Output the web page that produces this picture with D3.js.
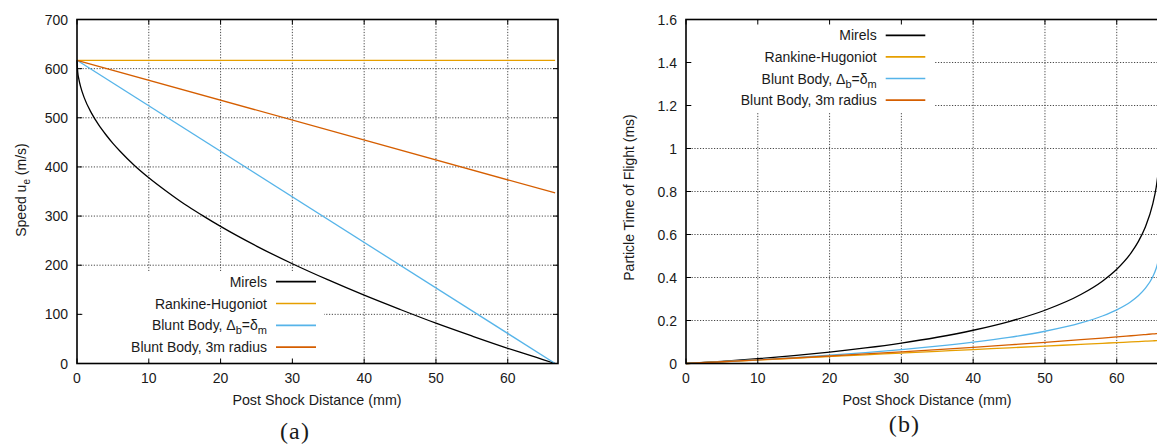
<!DOCTYPE html>
<html>
<head>
<meta charset="utf-8">
<script src="https://cdn.jsdelivr.net/npm/d3@7"></script>
<style>
  body { margin: 0; background: #fff; }
  svg { display: block; }
  text { font-family: "Liberation Sans", Arial, Helvetica, sans-serif; fill: #1a1a1a; }
  .caption { font-family: "Liberation Serif", "Times New Roman", serif; }
</style>
</head>
<body>
<svg id="chart" width="1157" height="446"></svg>
<script>
// ---- series styling / names ----
const seriesColors = ["#000000", "#E69F00", "#56B4E9", "#D55E00"];
// legend labels, split into normal and subscript parts
const seriesLabels = [
  [{ t: "Mirels" }],
  [{ t: "Rankine-Hugoniot" }],
  [{ t: "Blunt Body, \u0394" }, { t: "b", sub: true }, { t: "=\u03b4" }, { t: "m", sub: true }],
  [{ t: "Blunt Body, 3m radius" }]
];

// ---- (a) speed behind the shock, m/s vs mm ----
const speedMirelsX = [0, 0.1, 0.25, 0.5, 1, 2, 3, 4, 5, 6, 8, 10, 12.5, 15, 17.5, 20, 25, 30, 35, 40, 45, 50, 55, 60, 63, 65, 66.6];
const speedMirelsU = [617, 593, 579, 563.5, 541, 510, 486, 466, 448, 432, 403, 378, 350, 324, 301, 279, 239, 203, 170, 139, 110, 82, 56, 31, 17, 7.5, 0];
const speedRankineX = [0, 66.6];
const speedRankineU = [617, 617];
const speedBluntX = [0, 66.6];
const speedBluntU = [617, 0];
const speed3mX = [0, 66.6];
const speed3mU = [617, 347];

// ---- (b) particle time of flight, ms vs mm ----
const tofX       = [0, 5, 10, 15, 20, 25, 30, 35, 40, 45, 50, 55, 58, 60, 62, 63, 64, 65, 65.5, 66];
const tofMirels  = [0, 0.0100, 0.0222, 0.0365, 0.0531, 0.0725, 0.0952, 0.1221, 0.1547, 0.1951, 0.2476, 0.3207, 0.3828, 0.4382, 0.5145, 0.5666, 0.6360, 0.7401, 0.8205, 0.9511];
const tofRankine = [0, 0.0081, 0.0162, 0.0243, 0.0324, 0.0405, 0.0486, 0.0567, 0.0648, 0.0729, 0.0810, 0.0891, 0.0940, 0.0972, 0.1005, 0.1021, 0.1037, 0.1053, 0.1062, 0.1070];
const tofBlunt   = [0, 0.0084, 0.0176, 0.0275, 0.0386, 0.0508, 0.0646, 0.0805, 0.0991, 0.1215, 0.1500, 0.1887, 0.2209, 0.2495, 0.2885, 0.3150, 0.3501, 0.4025, 0.4429, 0.5083];
const tof3m      = [0, 0.0082, 0.0168, 0.0256, 0.0348, 0.0443, 0.0542, 0.0645, 0.0752, 0.0865, 0.0983, 0.1106, 0.1184, 0.1237, 0.1291, 0.1318, 0.1346, 0.1374, 0.1388, 0.1403];

// ---- ticks ----
const distTicks = [0, 10, 20, 30, 40, 50, 60];
const speedTicks = [0, 100, 200, 300, 400, 500, 600, 700];
const tofTicks = [0, 0.2, 0.4, 0.6, 0.8, 1.0, 1.2, 1.4, 1.6];
const tofTickLabels = ["0", "0.2", "0.4", "0.6", "0.8", "1", "1.2", "1.4", "1.6"];

const svg = d3.select("#chart");
const zip = (xs, ys) => xs.map((x, i) => [x, ys[i]]);

function addParts(sel, parts, subSize) {
  parts.forEach(p => {
    const ts = sel.append("tspan").text(p.t);
    if (p.sub) ts.attr("font-size", subSize).attr("dy", 4);
    else ts.attr("dy", sel.selectAll("tspan").size() > 1 ? -4 : 0);
  });
}

function drawPanel(cfg) {
  const x = d3.scaleLinear().domain([0, 67]).range([cfg.left, cfg.left + 481]);
  const y = d3.scaleLinear().domain(cfg.yDomain).range([363.5, 19.5]);
  const g = svg.append("g");
  const x0 = x.range()[0], x1 = x.range()[1];
  const y0 = y.range()[0], y1 = y.range()[1];

  // grid
  const grid = g.append("g").attr("stroke", "#333").attr("stroke-width", 0.9)
    .attr("stroke-dasharray", "1.2,1.6");
  grid.selectAll("line.v").data(distTicks.filter(d => d > 0)).join("line")
    .attr("x1", d => x(d)).attr("x2", d => x(d)).attr("y1", y0).attr("y2", y1);
  grid.selectAll("line.h").data(cfg.yTicks.filter(d => d > cfg.yDomain[0] && d < cfg.yDomain[1])).join("line")
    .attr("class", "h")
    .attr("x1", x0).attr("x2", x1).attr("y1", d => y(d)).attr("y2", d => y(d));

  // legend background hides the grid behind the key
  g.append("rect").attr("x", cfg.key.bx).attr("y", cfg.key.by)
    .attr("width", cfg.key.bw).attr("height", cfg.key.bh).attr("fill", "#fff");

  // curves
  const line = d3.line().x(d => x(d[0])).y(d => y(d[1])).curve(d3.curveMonotoneX);
  cfg.series.forEach((s, i) => {
    g.append("path").datum(s).attr("fill", "none")
      .attr("stroke", seriesColors[i]).attr("stroke-width", 1.3).attr("d", line);
  });

  // ticks (inward, mirrored)
  const tk = g.append("g").attr("stroke", "#000").attr("stroke-width", 1);
  distTicks.forEach(d => {
    tk.append("line").attr("x1", x(d)).attr("x2", x(d)).attr("y1", y0).attr("y2", y0 - 5);
    tk.append("line").attr("x1", x(d)).attr("x2", x(d)).attr("y1", y1).attr("y2", y1 + 5);
  });
  cfg.yTicks.forEach(d => {
    tk.append("line").attr("x1", x0).attr("x2", x0 + 5).attr("y1", y(d)).attr("y2", y(d));
    tk.append("line").attr("x1", x1).attr("x2", x1 - 5).attr("y1", y(d)).attr("y2", y(d));
  });

  // frame
  g.append("rect").attr("x", x0).attr("y", y1).attr("width", x1 - x0).attr("height", y0 - y1)
    .attr("fill", "none").attr("stroke", "#000").attr("stroke-width", 1.6);

  // tick labels
  g.selectAll("text.xt").data(distTicks).join("text").attr("class", "xt")
    .attr("x", d => x(d)).attr("y", 383).attr("text-anchor", "middle")
    .attr("font-size", 14).text(d => d);
  g.selectAll("text.yt").data(cfg.yTicks).join("text").attr("class", "yt")
    .attr("x", x0 - 9).attr("y", d => y(d) + 5).attr("text-anchor", "end")
    .attr("font-size", 14).text((d, i) => cfg.yTickLabels[i]);

  // axis titles
  g.append("text").attr("x", cfg.xTitleX).attr("y", 405).attr("text-anchor", "middle")
    .attr("font-size", 14.3).text("Post Shock Distance (mm)");
  const yt = g.append("text").attr("text-anchor", "middle").attr("font-size", 14)
    .attr("transform", `translate(${cfg.yTitleX},${cfg.yTitleY}) rotate(-90)`);
  addParts(yt, cfg.yTitle, 10);

  // legend
  seriesLabels.forEach((parts, i) => {
    const ly = cfg.key.y0 + i * cfg.key.dy;
    const t = g.append("text").attr("x", cfg.key.tx).attr("y", ly + 5)
      .attr("text-anchor", "end").attr("font-size", 14);
    addParts(t, parts, 11);
    g.append("line").attr("x1", cfg.key.lx1).attr("x2", cfg.key.lx2)
      .attr("y1", ly).attr("y2", ly).attr("stroke", seriesColors[i]).attr("stroke-width", 1.7);
  });

  // sub-figure caption
  g.append("text").attr("class", "caption").attr("x", cfg.cap.x).attr("y", cfg.cap.y)
    .attr("text-anchor", "middle").attr("font-size", 24).attr("letter-spacing", 1.2)
    .text(cfg.cap.t);
}

drawPanel({
  left: 77,
  yDomain: [0, 700],
  yTicks: speedTicks,
  yTickLabels: speedTicks.map(String),
  series: [zip(speedMirelsX, speedMirelsU), zip(speedRankineX, speedRankineU),
           zip(speedBluntX, speedBluntU), zip(speed3mX, speed3mU)],
  xTitleX: 317,
  yTitleX: 26, yTitleY: 190,
  yTitle: [{ t: "Speed u" }, { t: "e", sub: true }, { t: " (m/s)" }],
  key: { bx: 83, by: 271, bw: 241, bh: 91, tx: 267, lx1: 276, lx2: 316, y0: 281.7, dy: 21.8 },
  cap: { x: 295, y: 439, t: "(a)" }
});

drawPanel({
  left: 686,
  yDomain: [0, 1.6],
  yTicks: tofTicks,
  yTickLabels: tofTickLabels,
  series: [zip(tofX, tofMirels), zip(tofX, tofRankine), zip(tofX, tofBlunt), zip(tofX, tof3m)],
  xTitleX: 927,
  yTitleX: 634, yTitleY: 197.5,
  yTitle: [{ t: "Particle Time of Flight (ms)" }],
  key: { bx: 692, by: 21, bw: 242, bh: 91, tx: 876.7, lx1: 885.7, lx2: 925.3, y0: 35.3, dy: 21.6 },
  cap: { x: 904.5, y: 432, t: "(b)" }
});
</script>
</body>
</html>
